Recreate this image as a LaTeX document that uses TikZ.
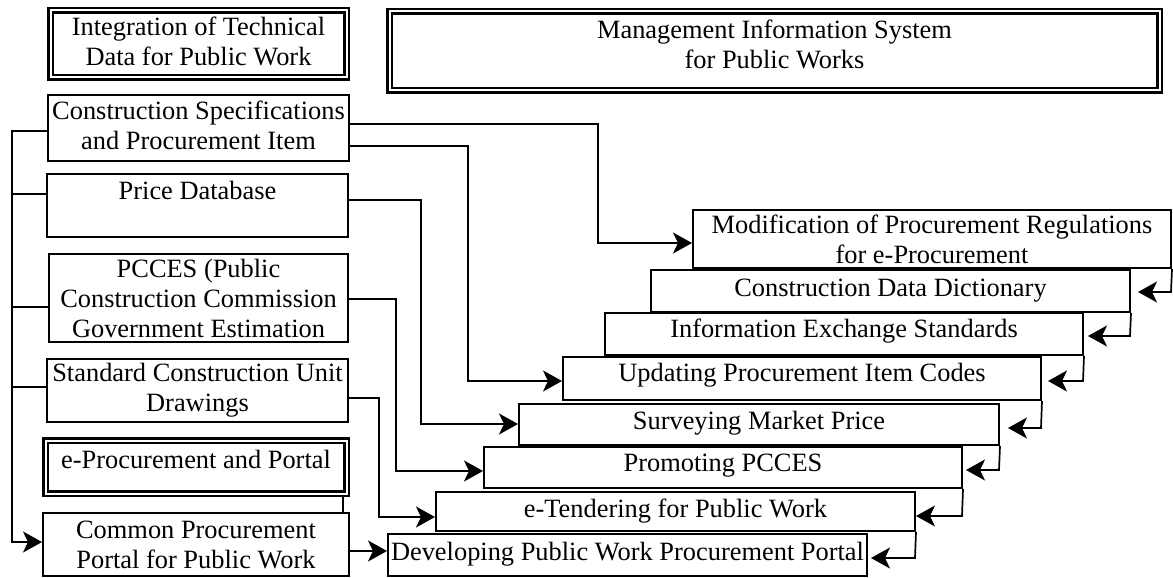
\documentclass[tikz,border=0pt]{standalone}
\usepackage{fontspec}
\setmainfont{Liberation Serif}
\usetikzlibrary{arrows.meta}
\newcommand{\dpt}[1]{\rule[-#1pt]{0pt}{0pt}}
\tikzset{
  box/.style={draw, line width=2pt, inner sep=0pt, align=center, font=\fontsize{26.4}{30}\selectfont},
  dbox/.style={box, line width=2.5pt, double, double distance=2pt},
  con/.style={line width=1.7pt},
  bigtip/.tip={Stealth[length=19pt 0, width=21pt 0, inset=5pt 0, fill=black]},
  arr/.style={con, -bigtip}
}
\begin{document}
\begin{tikzpicture}[x=1pt,y=1pt]
\useasboundingbox (0,0) rectangle (1173,-578);

% left column
\node[dbox, minimum width=296pt, minimum height=67pt] (it) at (198.5,-44) {Integration of Technical\\Data for Public Work\dpt{6}};
\node[box, minimum width=301pt, minimum height=66pt] (cs) at (198.5,-128) {Construction Specifications\\and Procurement Item\dpt{5}};
\node[box, minimum width=301pt, minimum height=63pt] (pd) at (197.5,-205.5) {Price Database\dpt{30.6}};
\node[box, minimum width=299pt, minimum height=88pt] (pc) at (198.5,-298) {PCCES (Public\\Construction Commission\\Government Estimation};
\node[box, minimum width=301pt, minimum height=63pt] (sc) at (197.5,-390.5) {Standard Construction Unit\\Drawings};
\node[dbox, minimum width=301pt, minimum height=53pt] (ep) at (196,-467) {e-Procurement and Portal\dpt{15.6}};
\node[box, minimum width=306pt, minimum height=63pt] (cp) at (196,-544.5) {Common Procurement\\Portal for Public Work};

% top right
\node[dbox, minimum width=770pt, minimum height=79pt] (mis) at (774.5,-51) {Management Information System\\for Public Works\dpt{14}};

% staircase
\node[box, minimum width=478pt, minimum height=58pt] (mod) at (932,-239) {Modification of Procurement Regulations\\for e-Procurement};
\node[box, minimum width=479pt, minimum height=42pt] (cdd) at (890.5,-291) {Construction Data Dictionary};
\node[box, minimum width=478pt, minimum height=42pt] (ies) at (844,-334) {Information Exchange Standards\dpt{11.6}};
\node[box, minimum width=478pt, minimum height=43pt] (upd) at (802,-378.5) {Updating Procurement Item Codes\dpt{12.6}};
\node[box, minimum width=480pt, minimum height=41pt] (smp) at (759,-424.5) {Surveying Market Price\dpt{7.6}};
\node[box, minimum width=478pt, minimum height=41pt] (pro) at (723,-467.5) {Promoting PCCES\dpt{9.6}};
\node[box, minimum width=479pt, minimum height=39pt] (ete) at (675.5,-511.5) {e-Tendering for Public Work};
\node[box, minimum width=479pt, minimum height=42pt] (dev) at (627.5,-555) {Developing Public Work Procurement Portal\dpt{7.6}};

% left bus
\coordinate (b1) at (12,-131);
\coordinate (b2) at (12,-194);
\coordinate (b3) at (12,-307);
\coordinate (b4) at (12,-387);
\coordinate (b5) at (12,-542);
\draw[arr] (b1 -| cs.west) -- (b1) -- (b5) -- (b5 -| cp.west);
\draw[con] (b2) -- (b2 -| pd.west);
\draw[con] (b3) -- (b3 -| pc.west);
\draw[con] (b4) -- (b4 -| sc.west);

% left to right connectors
\coordinate (p1) at (598,-124); \coordinate (q1) at (598,-243);
\coordinate (p2) at (468,-146); \coordinate (q2) at (468,-381);
\coordinate (p3) at (421,-200); \coordinate (q3) at (421,-424);
\coordinate (p4) at (396,-299); \coordinate (q4) at (396,-471);
\coordinate (p5) at (379,-398); \coordinate (q5) at (379,-517);
\coordinate (p6) at (360,-551);
\coordinate (p7) at (343,-500);
\draw[arr] (cs.east |- p1) -- (p1) -- (q1) -- (q1 -| mod.west);
\draw[arr] (cs.east |- p2) -- (p2) -- (q2) -- (q2 -| upd.west);
\draw[arr] (pd.east |- p3) -- (p3) -- (q3) -- (q3 -| smp.west);
\draw[arr] (pc.east |- p4) -- (p4) -- (q4) -- (q4 -| pro.west);
\draw[arr] (sc.east |- p5) -- (p5) -- (q5) -- (q5 -| ete.west);
\draw[arr] (cp.east |- p6) -- (p6 -| dev.west);
\draw[con] (p7 |- ep.south) -- (p7 |- cp.north);

% staircase connectors
\coordinate (r1) at (1171,-292);
\coordinate (r2) at (1130,-336);
\coordinate (r3) at (1083,-381);
\coordinate (r4) at (1041,-428);
\coordinate (r5) at (999,-470);
\coordinate (r6) at (962,-516);
\coordinate (r7) at (915,-558);
\draw[arr, shorten >=7pt] (mod.south east) -- (r1) -- (r1 -| cdd.east);
\draw[arr, shorten >=4pt] (cdd.south east) -- (r2) -- (r2 -| ies.east);
\draw[arr, shorten >=6pt] (ies.south east) -- (r3) -- (r3 -| upd.east);
\draw[arr, shorten >=8pt] (upd.south east) -- (r4) -- (r4 -| smp.east);
\draw[arr, shorten >=3pt] (smp.south east) -- (r5) -- (r5 -| pro.east);
\draw[arr] (pro.south east) -- (r6) -- (r6 -| ete.east);
\draw[arr, shorten >=3pt] (ete.south east) -- (r7) -- (r7 -| dev.east);
\end{tikzpicture}
\end{document}
